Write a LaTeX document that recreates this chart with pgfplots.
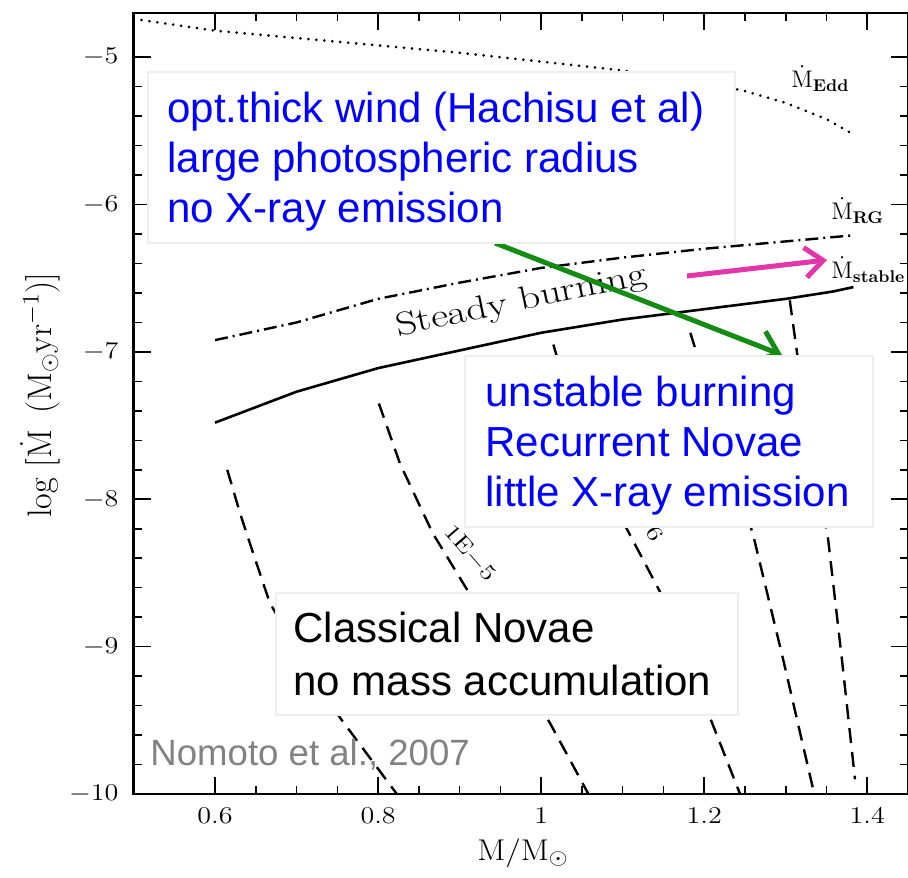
\documentclass[border=0pt]{standalone}
\usepackage{pgfplots}
\pgfplotsset{compat=1.18}
\usepackage{fontspec}
\usepackage{graphicx}
\usetikzlibrary{arrows.meta}
\newfontfamily\arial{Liberation Sans}
\definecolor{boxgray}{RGB}{238,238,238}
\definecolor{arrgreen}{RGB}{20,140,20}
\definecolor{arrmag}{RGB}{225,55,170}
\definecolor{txtgray}{RGB}{130,130,130}
\newcommand{\sub}[1]{\mbox{\fontsize{8.5}{10}\selectfont\bfseries #1}}
\begin{document}
\begin{tikzpicture}
\begin{axis}[
  at={(0,0)}, anchor=south west,
  width=387.25pt, height=390.5pt, scale only axis,
  xmin=0.5, xmax=1.45, ymin=-10, ymax=-4.7,
  xtick={0.6,0.8,1,1.2,1.4}, ytick={-10,-9,-8,-7,-6,-5},
  minor x tick num=3, minor y tick num=4,
  tick align=inside, tick pos=both, ticklabel pos=left,
  major tick length=8.5pt, minor tick length=4pt,
  axis line style={line width=1.3pt},
  every tick/.style={line width=0.8pt, black},
  ticklabel style={font=\fontsize{12}{14}\selectfont},
  xticklabel={\scalebox{1.17}[1]{$\pgfmathprintnumber{\tick}$}},
  yticklabel={\scalebox{1.17}[1]{$\pgfmathprintnumber{\tick}$}},
  xticklabel style={yshift=-3.5pt},
  yticklabel style={xshift=-4pt},
]
% Eddington (dotted)
\addplot[black, line width=1.4pt, line cap=round, dash pattern=on 0.1pt off 3.9pt] coordinates {
(0.5,-4.74) (0.6,-4.82) (0.7,-4.87) (0.8,-4.92) (0.9,-4.97) (1.0,-5.03)
(1.1,-5.09) (1.2,-5.17) (1.25,-5.23) (1.3,-5.31) (1.35,-5.42) (1.385,-5.53)};
% red giant (dash-dot)
\addplot[black, line width=1.2pt, dash pattern=on 6.5pt off 2.5pt on 1pt off 2.5pt] coordinates {
(0.6,-6.92) (0.7,-6.80) (0.8,-6.64) (0.9,-6.53) (1.0,-6.43) (1.1,-6.36)
(1.2,-6.30) (1.3,-6.25) (1.38,-6.21)};
% stable (solid)
\addplot[black, line width=1.3pt] coordinates {
(0.6,-7.48) (0.7,-7.27) (0.8,-7.11) (0.9,-6.99) (1.0,-6.87) (1.1,-6.78)
(1.2,-6.71) (1.3,-6.64) (1.358,-6.59) (1.383,-6.56)};
% dashed contours
\addplot[black, line width=1.2pt, dash pattern=on 7.5pt off 4.5pt] coordinates {
(0.615,-7.80) (0.631,-8.10) (0.647,-8.37) (0.667,-8.70) (0.707,-9.09) (0.753,-9.48) (0.823,-10.0)};
\addplot[black, line width=1.2pt, dash pattern=on 7.5pt off 4.5pt] coordinates {
(0.801,-7.35) (0.827,-7.76) (0.867,-8.23) (0.911,-8.63) (0.96,-9.07) (1.011,-9.52) (1.058,-10.0)};
\addplot[black, line width=1.2pt, dash pattern=on 7.5pt off 4.5pt] coordinates {
(1.015,-6.95) (1.042,-7.46) (1.072,-7.87) (1.106,-8.21) (1.146,-8.63) (1.177,-9.06) (1.207,-9.48) (1.244,-10.0)};
\addplot[black, line width=1.2pt, dash pattern=on 7.5pt off 4.5pt] coordinates {
(1.183,-6.87) (1.22,-7.53) (1.26,-8.24) (1.297,-9.09) (1.335,-10.0)};
\addplot[black, line width=1.2pt, dash pattern=on 7.5pt off 4.5pt] coordinates {
(1.305,-6.65) (1.314,-7.01) (1.333,-7.6) (1.352,-8.27) (1.369,-9.09) (1.385,-9.90)};
\end{axis}
% annotations in pixel coordinates of the reference
\begin{scope}[x=0.5pt, y=-0.5pt, shift={(-66.75pt,397pt)}]
% axis labels
\node[rotate=90, font=\fontsize{17}{20}\selectfont] at (40,395)
  {$\log\ [\dot{\mathrm{M}}\ \,(\mathrm{M_\odot yr^{-1}})]$};
\node[anchor=base, font=\fontsize{15}{18}\selectfont] at (523,860)
  {\scalebox{1.1}[1]{$\mathrm{M/M_\odot}$}};
% curve labels
\node[rotate=11.8, anchor=base, font=\fontsize{16.5}{18}\selectfont, inner sep=0] at (523,310)
  {\scalebox{1.26}[1]{Steady burning}};
\node[rotate=-49, font=\fontsize{11}{13}\selectfont, inner sep=0] at (470,553)
  {\scalebox{1.25}[1]{1E$-$5}};
\node[rotate=-60, font=\fontsize{11}{13}\selectfont, inner sep=0] at (655,534)
  {\scalebox{1.25}[1]{6}};
\node[anchor=base west, inner sep=0, font=\fontsize{12}{14}\selectfont] at (791,88)
  {$\dot{\mathrm{M}}_{\sub{Edd}}$};
\node[anchor=base west, inner sep=0, font=\fontsize{12}{14}\selectfont] at (831,220)
  {$\dot{\mathrm{M}}_{\sub{RG}}$};
\node[anchor=base west, inner sep=0, font=\fontsize{12}{14}\selectfont] at (831,279)
  {$\dot{\mathrm{M}}_{\sub{stable}}$};
% arrows
\draw[arrgreen, line width=2.5pt, -{Straight Barb[length=10pt,width=16pt]}] (495,243) -- (782,355);
\draw[arrmag, line width=2.5pt, -{Straight Barb[length=9pt,width=15pt]}] (687,276) -- (827,260);
% text boxes
\draw[boxgray, fill=white, line width=0.6pt] (148,72) rectangle (735,243);
\draw[boxgray, fill=white, line width=0.6pt] (465,356) rectangle (873,527);
\draw[boxgray, fill=white, line width=0.6pt] (276,593) rectangle (738,715);
\begin{scope}[every node/.style={anchor=base west, inner sep=0, font=\arial\fontsize{21}{25}\selectfont}]
\node[blue] at (167,123) {opt.thick wind (Hachisu et al)};
\node[blue] at (167,173) {large photospheric radius};
\node[blue] at (167,223) {no X-ray emission};
\node[blue] at (485,407) {unstable burning};
\node[blue] at (485,457) {Recurrent Novae};
\node[blue] at (485,507) {little X-ray emission};
\node[black] at (293,643) {Classical Novae};
\node[black] at (293,695) {no mass accumulation};
\node[txtgray, font=\arial\fontsize{18.3}{22}\selectfont] at (150,765) {Nomoto et al., 2007};
\end{scope}
\end{scope}
\pgfresetboundingbox
\useasboundingbox (-66.75pt,-41.5pt) rectangle (387.25pt,397pt);
\end{tikzpicture}
\end{document}
